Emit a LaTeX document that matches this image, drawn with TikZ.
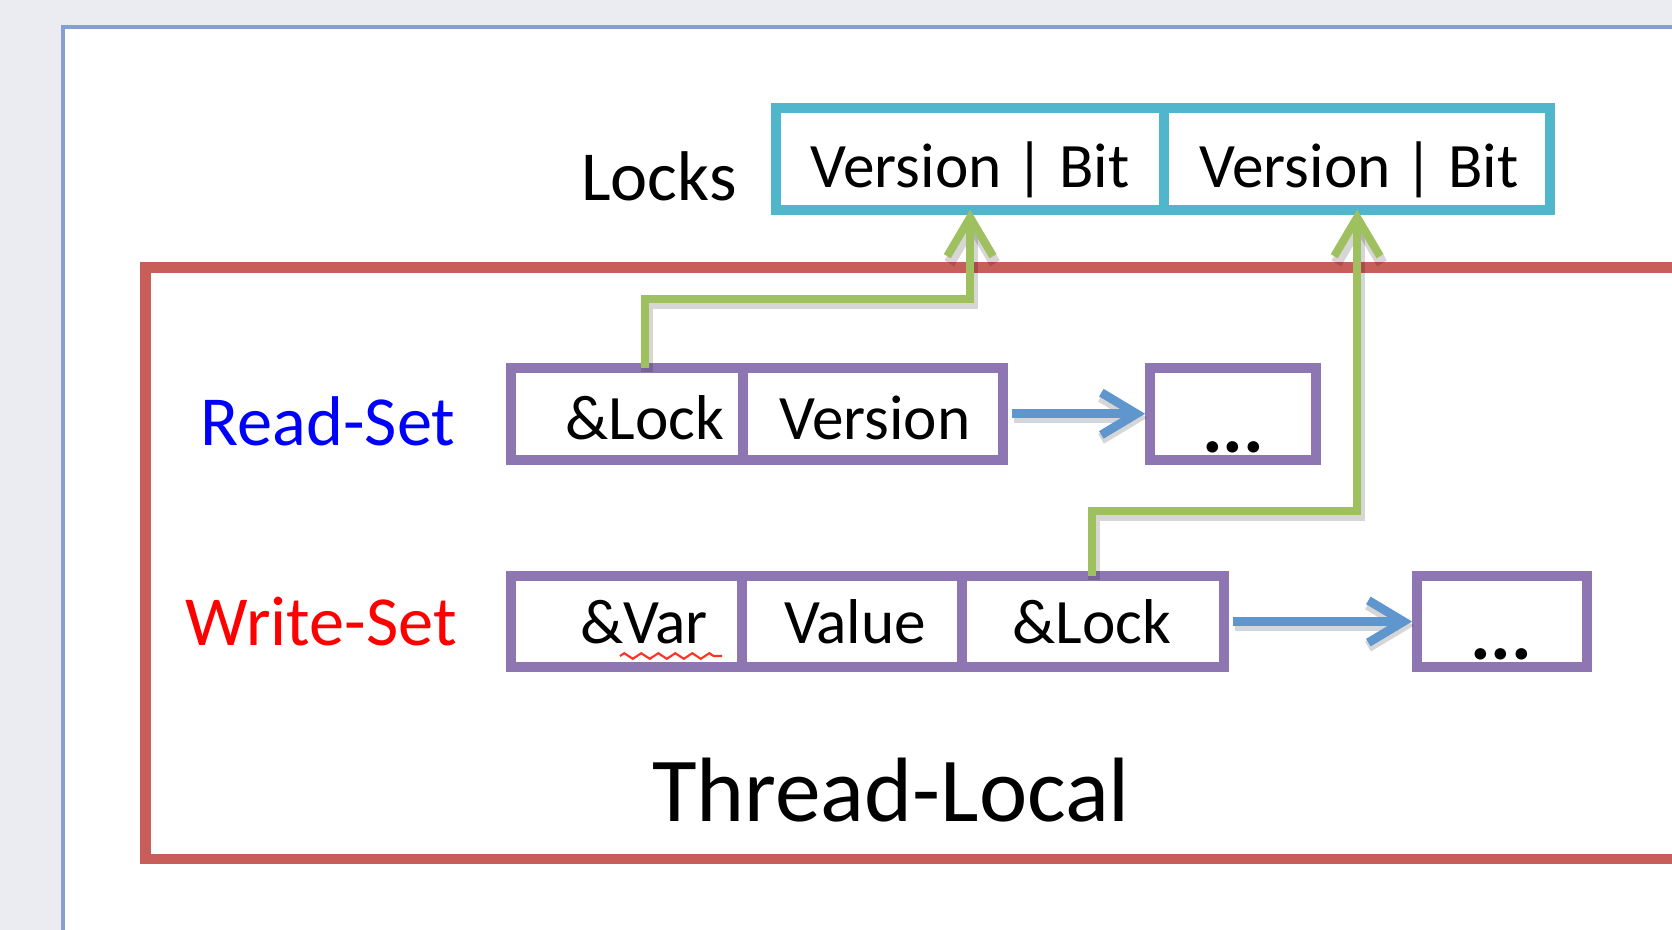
\documentclass[tikz,border=0pt]{standalone}
\usepackage{fontspec}
\setmainfont{Carlito}
\usetikzlibrary{arrows.meta,decorations.pathmorphing}

\definecolor{pagebg}{RGB}{234,236,242}
\definecolor{framebl}{RGB}{135,158,212}
\definecolor{tlred}{RGB}{199,94,90}
\definecolor{lockcy}{RGB}{80,182,204}
\definecolor{setpu}{RGB}{142,118,178}
\definecolor{ptrgr}{RGB}{158,192,95}
\definecolor{nxtbl}{RGB}{95,150,205}
\definecolor{spellred}{RGB}{255,50,40}

\tikzset{
  cellbox/.style={draw, line width=2.85pt, inner sep=0pt, outer sep=0pt,
    anchor=north west, rectangle},
  lockcell/.style={cellbox, draw=lockcy, minimum height=1.015cm},
  setcell/.style={cellbox, draw=setpu, minimum height=0.915cm},
  celltext/.style={anchor=base, inner sep=0pt, font=\fontsize{18}{22}\selectfont},
  moretext/.style={anchor=base, inner sep=0pt, font=\bfseries\fontsize{22}{26}\selectfont},
  sidelabel/.style={anchor=base, inner sep=0pt, font=\fontsize{20}{24}\selectfont},
  softshadow/.style={preaction={draw=black, draw opacity=0.16, line width=3.2pt,
    transform canvas={shift={(2,4)}}}},
  lockptr/.style={draw=ptrgr, line width=2.3pt, softshadow,
    -{Straight Barb[length=11pt,width=13pt]}},
  nextptr/.style={draw=nxtbl, line width=2.5pt, softshadow,
    -{Straight Barb[length=10pt,width=12pt]}},
  spelling/.style={draw=spellred, line width=0.6pt,
    decorate, decoration={zigzag, segment length=0.17cm, amplitude=0.028cm}}
}

\begin{document}
\begin{tikzpicture}[x=0.01cm, y=-0.01cm]
  \useasboundingbox (0,0) rectangle (1672,930);
  \fill[pagebg] (0,0) rectangle (1672,930);

  % slide frame and the thread-local region (both run off the right edge)
  \begin{scope}
    \clip (0,0) rectangle (1672,930);
    \filldraw[fill=white, draw=framebl, line width=1.2pt] (63,27) rectangle (1720,980);
    \draw[tlred, line width=3.1pt] (145.5,267.5) rectangle (1720,859);
  \end{scope}

  % lock table
  \node[lockcell, minimum width=3.88cm] (lk1) at (776,108) {};
  \node[lockcell, minimum width=3.86cm] (lk2) at (1164,108) {};
  \node[celltext] (tlk1) at (970,187) {Version | Bit};
  \node[celltext] (tlk2) at (1359,187) {Version | Bit};
  \node[sidelabel] (locks) at (659,200) {Locks};

  % read-set entries
  \node[setcell, minimum width=2.32cm] (rs1) at (511,368) {};
  \node[setcell, minimum width=2.60cm] (rs2) at (743,368) {};
  \node[setcell, minimum width=1.66cm] (rs3) at (1150,368) {};
  \node[celltext] (trs1) at (645,439) {\&Lock};
  \node[celltext] (trs2) at (875,439) {Version};
  \node[moretext] (trs3) at (1233,452) {...};
  \node[sidelabel, text=blue] (readset) at (328,445) {Read-Set};

  % write-set entries
  \node[setcell, minimum width=2.31cm, minimum height=0.91cm] (ws1) at (511,576) {};
  \node[setcell, minimum width=2.20cm, minimum height=0.91cm] (ws2) at (742,576) {};
  \node[setcell, minimum width=2.615cm, minimum height=0.91cm] (ws3) at (962,576) {};
  \node[setcell, minimum width=1.70cm, minimum height=0.91cm] (ws4) at (1417,576) {};
  \node[celltext] (tws1) at (644,643) {\&Var};
  \node[celltext] (tws2) at (855,643) {Value};
  \node[celltext] (tws3) at (1092,643) {\&Lock};
  \node[moretext] (tws4) at (1501,659) {...};
  \node[sidelabel, text=red] (writeset) at (321,645) {Write-Set};
  \path[spelling] (620,656) -- (722,656);

  \node[anchor=base, inner sep=0pt, font=\fontsize{26}{30}\selectfont] (threadlocal) at (891,821) {Thread-Local};

  % pointers into the lock table
  \coordinate (bendr) at (0,299);
  \coordinate (bendw) at (0,511);
  \draw[lockptr] (trs1 |- rs1.north) -- (trs1 |- bendr) -| (lk1.south);
  \draw[lockptr] (tws3 |- ws3.north) -- (tws3 |- bendw) -| (lk2.south);

  % links to the next entries
  \draw[nextptr, shorten <=2.6pt, shorten >=1.4pt] (rs2.east) -- (rs3.west);
  \draw[nextptr, shorten <=2.6pt, shorten >=1.4pt] (ws3.east) -- (ws4.west);
\end{tikzpicture}
\end{document}
